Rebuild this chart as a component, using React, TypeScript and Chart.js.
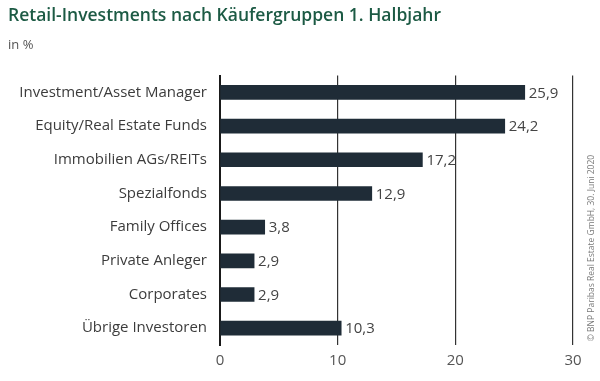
import React, { useEffect, useRef } from "react";
import { Chart, registerables } from "chart.js";

Chart.register(...registerables);

const categories = [
  "Investment/Asset Manager",
  "Equity/Real Estate Funds",
  "Immobilien AGs/REITs",
  "Spezialfonds",
  "Family Offices",
  "Private Anleger",
  "Corporates",
  "Übrige Investoren",
];
const values = [25.9, 24.2, 17.2, 12.9, 3.8, 2.9, 2.9, 10.3];
const xTicks = [0, 10, 20, 30];
const titleText = "Retail-Investments nach Käufergruppen 1. Halbjahr";
const subtitleText = "in %";
const sourceText = "© BNP Paribas Real Estate GmbH, 30. Juni 2020";

const FONT = "'Open Sans', 'Noto Sans', sans-serif";

const valueLabels = {
  id: "valueLabels",
  afterDatasetsDraw(chart: any) {
    const ctx = chart.ctx;
    const meta = chart.getDatasetMeta(0);
    ctx.save();
    ctx.font = `15px ${FONT}`;
    ctx.fillStyle = "#444444";
    ctx.textAlign = "left";
    ctx.textBaseline = "middle";
    meta.data.forEach((bar: any, i: number) => {
      const v = chart.data.datasets[0].data[i] as number;
      ctx.fillText(v.toFixed(1).replace(".", ","), bar.x + 4, bar.y + 1);
    });
    ctx.restore();
  },
};

const sourceNote = {
  id: "sourceNote",
  afterDraw(chart: any) {
    const ctx = chart.ctx;
    ctx.save();
    ctx.translate(592, 248);
    ctx.rotate(-Math.PI / 2);
    ctx.font = `8.5px ${FONT}`;
    ctx.fillStyle = "#7a7a7a";
    ctx.textAlign = "center";
    ctx.textBaseline = "middle";
    ctx.fillText(sourceText, 0, 0);
    ctx.restore();
  },
};

export default function App() {
  const ref = useRef<HTMLCanvasElement | null>(null);
  useEffect(() => {
    document.body.style.margin = "0";
    const chart = new Chart(ref.current as HTMLCanvasElement, {
      type: "bar",
      data: {
        labels: categories,
        datasets: [
          {
            data: values,
            backgroundColor: "#1f2c37",
            barThickness: 14,
          },
        ],
      },
      plugins: [valueLabels, sourceNote],
      options: {
        indexAxis: "y",
        animation: false,
        responsive: false,
        layout: { padding: { left: 8, right: 27, bottom: 4, top: 0 } },
        plugins: {
          legend: { display: false },
          tooltip: { enabled: false },
          title: {
            display: true,
            text: titleText,
            align: "start",
            color: "#1c5a44",
            font: { family: FONT, size: 17.5, weight: "600" },
            padding: { top: 6, bottom: 0 },
          },
          subtitle: {
            display: true,
            text: subtitleText,
            align: "start",
            color: "#555555",
            font: { family: FONT, size: 13 },
            padding: { top: 10, bottom: 23 },
          },
        },
        scales: {
          x: {
            min: 0,
            max: 30,
            afterBuildTicks: (scale: any) => {
              scale.ticks = xTicks.map((v) => ({ value: v }));
            },
            grid: { color: "#333333", lineWidth: 1.2, drawTicks: false },
            border: { display: false },
            ticks: {
              padding: 7,
              color: "#555555",
              font: { family: FONT, size: 15 },
            },
          },
          y: {
            afterFit: (scale: any) => {
              scale.width = 212;
            },
            grid: { display: false, drawTicks: false },
            border: { display: true, color: "#1a1a1a", width: 2 },
            ticks: {
              padding: 13,
              color: "#3c3c3c",
              font: { family: FONT, size: 15 },
            },
          },
        },
      } as any,
    });
    return () => chart.destroy();
  }, []);
  return <canvas ref={ref} width={600} height={381} style={{ display: "block" }} />;
}
